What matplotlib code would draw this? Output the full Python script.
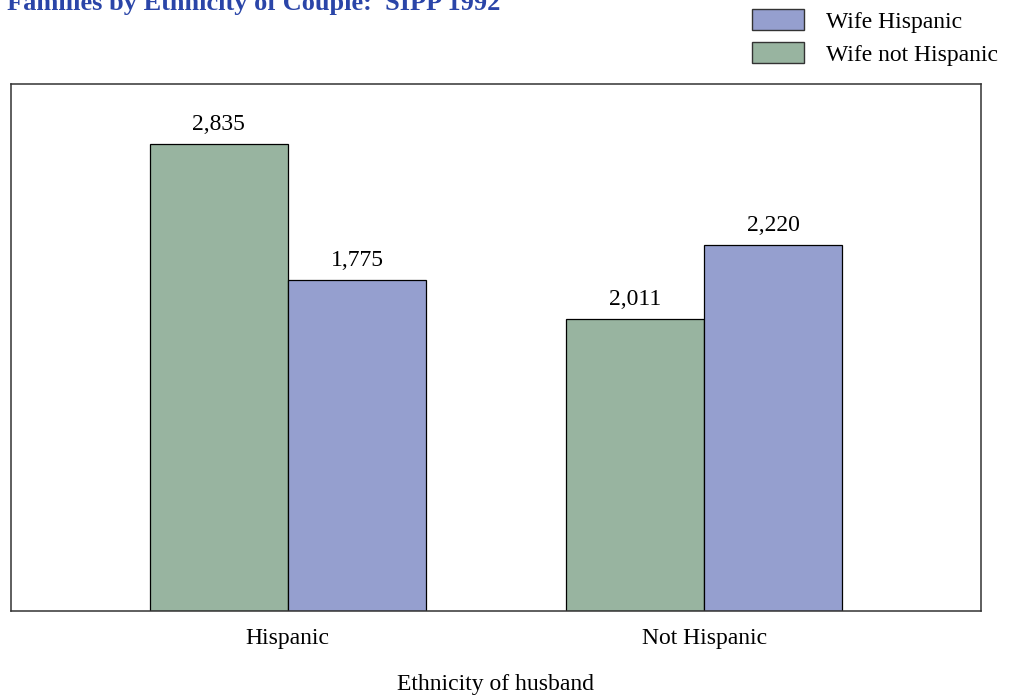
import matplotlib
matplotlib.use("Agg")
import matplotlib.pyplot as plt
from matplotlib.patches import Patch
import numpy as np

plt.rcParams['font.family'] = ['Liberation Serif', 'DejaVu Serif']

# husband's ethnicity on the x axis
husband_groups = ['Hispanic', 'Not Hispanic']
series_names = ['Wife not Hispanic', 'Wife Hispanic']
# bar heights as drawn (share of the axis height, in %)
wife_not_hisp_height = [88.6, 55.4]
wife_hisp_height = [62.8, 69.4]
# numbers printed over the bars
wife_not_hisp_labels = ['2,835', '2,011']
wife_hisp_labels = ['1,775', '2,220']

green = '#98b4a0'
blue = '#959fcf'

fig = plt.figure(figsize=(10.15, 6.96), dpi=100)
ax = fig.add_axes([0.0108, 0.1221, 0.9557, 0.7572])

x = np.arange(len(husband_groups))
w = 0.332
b1 = ax.bar(x - w / 2, wife_not_hisp_height, w, color=green, edgecolor='black', linewidth=0.9)
b2 = ax.bar(x + w / 2, wife_hisp_height, w, color=blue, edgecolor='black', linewidth=0.9)

for bars, labels in [(b1, wife_not_hisp_labels), (b2, wife_hisp_labels)]:
    for r, lab in zip(bars, labels):
        ax.annotate(lab, (r.get_x() + r.get_width() / 2, r.get_height()),
                    xytext=(0, 6.5), textcoords='offset points',
                    ha='center', va='bottom', fontsize=17)

ax.set_xlim(-0.665, 1.665)
ax.set_ylim(0, 100)
ax.set_yticks([])
ax.set_xticks(x)
ax.set_xticklabels(husband_groups, fontsize=17)
ax.tick_params(axis='x', length=0, pad=12)
ax.set_xlabel('Ethnicity of husband', fontsize=17, labelpad=18)
for s in ax.spines.values():
    s.set_color('#333333')
    s.set_linewidth(1.1)

fig.text(7 / 1015, 1 - 10 / 696, 'Families by Ethnicity of Couple:  SIPP 1992',
         fontsize=19, fontweight='bold', color='#2a45a8', va='baseline', ha='left')

handles = [Patch(facecolor=blue, edgecolor='#333333'), Patch(facecolor=green, edgecolor='#333333')]
fig.legend(handles, [series_names[1], series_names[0]], loc='upper left',
           bbox_to_anchor=(745 / 1015, 1 - 2 / 696), frameon=False, fontsize=17,
           handlelength=2.2, handleheight=1.0, handletextpad=0.95, labelspacing=0.4,
           borderaxespad=0, borderpad=0.3)

fig.savefig('out.png', dpi=100)
